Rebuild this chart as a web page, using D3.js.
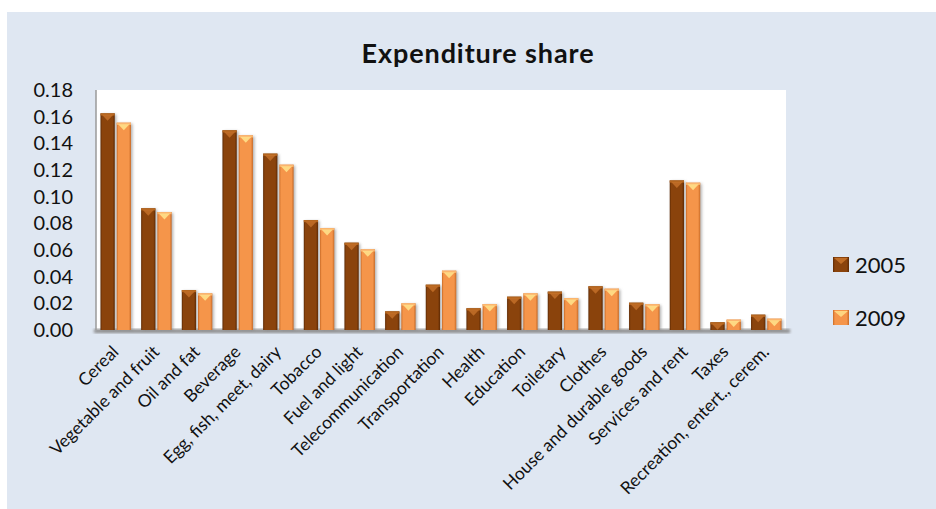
<!DOCTYPE html>
<html>
<head>
<meta charset="utf-8">
<script src="https://cdn.jsdelivr.net/npm/d3@7"></script>
<style>
  html, body { margin: 0; padding: 0; background: #ffffff; }
  svg { display: block; font-family: Lato, "Open Sans", "DejaVu Sans", sans-serif; }
</style>
</head>
<body>
<svg id="chart" width="936" height="509"></svg>
<script>
// Expenditure share by item, two survey years
const categories = [
  "Cereal", "Vegetable and fruit", "Oil and fat", "Beverage",
  "Egg, fish, meet, dairy", "Tobacco", "Fuel and light", "Telecommunication",
  "Transportation", "Health", "Education", "Toiletary", "Clothes",
  "House and durable goods", "Services and rent", "Taxes",
  "Recreation, entert., cerem."
];
const years = ["2005", "2009"];
const share2005 = [0.1625, 0.0913, 0.0300, 0.1498, 0.1323, 0.0825, 0.0655, 0.0140,
                   0.0340, 0.0163, 0.0250, 0.0288, 0.0328, 0.0205, 0.1122, 0.0058, 0.0115];
const share2009 = [0.1555, 0.0885, 0.0275, 0.1460, 0.1240, 0.0765, 0.0605, 0.0200,
                   0.0445, 0.0195, 0.0275, 0.0240, 0.0310, 0.0193, 0.1105, 0.0078, 0.0085];
const yTicks = [0, 0.02, 0.04, 0.06, 0.08, 0.10, 0.12, 0.14, 0.16, 0.18];

const series = [
  { name: years[0], values: share2005, base: "#8a430c", dark: "#5e2a04", light: "#b5661f", cap: "#c9742c" },
  { name: years[1], values: share2009, base: "#f5954a", dark: "#c86a26", light: "#fbb56e", cap: "#ffe08a" }
];

const svg = d3.select("#chart");
const W = 936, H = 509;
const plot = { left: 96, top: 90, right: 786, bottom: 330 };

// Outer chart background
svg.append("rect").attr("x", 7).attr("y", 12).attr("width", W - 7).attr("height", H - 12)
  .attr("fill", "#dfe7f2");

// Plot area
svg.append("rect").attr("x", plot.left).attr("y", plot.top)
  .attr("width", plot.right - plot.left).attr("height", plot.bottom - plot.top)
  .attr("fill", "#ffffff");

const x0 = d3.scaleBand().domain(categories).range([plot.left, plot.right]).paddingInner(0.25).paddingOuter(0.11);
const x1 = d3.scaleBand().domain(years).range([0, x0.bandwidth()]).paddingInner(0.12);
const y = d3.scaleLinear().domain([0, 0.18]).range([plot.bottom, plot.top]);

// Gradients for the bevelled bar look
const defs = svg.append("defs");
series.forEach((s, i) => {
  const g = defs.append("linearGradient").attr("id", "grad" + i)
    .attr("x1", "0").attr("x2", "1").attr("y1", "0").attr("y2", "0");
  g.append("stop").attr("offset", "0%").attr("stop-color", s.dark);
  g.append("stop").attr("offset", "12%").attr("stop-color", s.base);
  g.append("stop").attr("offset", "85%").attr("stop-color", s.base);
  g.append("stop").attr("offset", "100%").attr("stop-color", s.dark);
});
const blur = defs.append("filter").attr("id", "shadow").attr("x", "-30%").attr("y", "-10%")
  .attr("width", "160%").attr("height", "130%");
blur.append("feGaussianBlur").attr("stdDeviation", 1.4);

// Axis shadow along the baseline
svg.append("rect").attr("x", plot.left - 2).attr("y", plot.bottom - 1)
  .attr("width", plot.right - plot.left + 6).attr("height", 4)
  .attr("fill", "#8c8c8c").attr("filter", "url(#shadow)");

// Left axis line
svg.append("line").attr("x1", plot.left).attr("x2", plot.left)
  .attr("y1", plot.top).attr("y2", plot.bottom)
  .attr("stroke", "#9a9a9a").attr("stroke-width", 1.5);

// Bars
const groups = svg.append("g").selectAll("g")
  .data(categories)
  .join("g")
  .attr("transform", d => `translate(${x0(d)},0)`);

series.forEach((s, i) => {
  const bx = x1(s.name), bw = x1.bandwidth();
  // soft shadow
  groups.append("rect")
    .attr("x", bx + 1.5).attr("y", (d, k) => y(s.values[k]) + 1)
    .attr("width", bw).attr("height", (d, k) => plot.bottom - y(s.values[k]) - 1)
    .attr("fill", "#7a7a7a").attr("opacity", 0.6).attr("filter", "url(#shadow)");
  // body
  groups.append("rect")
    .attr("x", bx).attr("y", (d, k) => y(s.values[k]))
    .attr("width", bw).attr("height", (d, k) => plot.bottom - y(s.values[k]))
    .attr("fill", `url(#grad${i})`);
  // top rim
  groups.append("rect")
    .attr("x", bx).attr("y", (d, k) => y(s.values[k]))
    .attr("width", bw).attr("height", 2.2)
    .attr("fill", s.light);
  // bevel cap
  groups.append("path")
    .attr("d", (d, k) => {
      const t = y(s.values[k]) + 1.5;
      return `M${bx + 1.5},${t} L${bx + bw - 1.5},${t} L${bx + bw / 2},${t + 6} Z`;
    })
    .attr("fill", s.cap).attr("opacity", i === 0 ? 0.75 : 0.9);
});

// Y tick labels
svg.append("g").selectAll("text")
  .data(yTicks)
  .join("text")
  .attr("x", 73).attr("y", d => y(d) + 7)
  .attr("text-anchor", "end")
  .attr("font-size", 20).attr("fill", "#111")
  .text(d => d3.format(".2f")(d));

// Category labels, rotated
svg.append("g").selectAll("text")
  .data(categories)
  .join("text")
  .attr("transform", d => `translate(${x0(d) + x0.bandwidth() / 2 + 4},${plot.bottom + 23}) rotate(-45)`)
  .attr("text-anchor", "end")
  .attr("font-size", 17.5).attr("fill", "#111")
  .text(d => d);

// Title
svg.append("text").attr("x", 478).attr("y", 63)
  .attr("text-anchor", "middle").attr("font-size", 27).attr("font-weight", "bold")
  .attr("letter-spacing", 0.9)
  .attr("fill", "#111").text("Expenditure share");

// Legend
const legend = svg.append("g").selectAll("g")
  .data(series)
  .join("g")
  .attr("transform", (d, i) => `translate(833,${257 + i * 53})`);
legend.append("rect").attr("width", 16).attr("height", 15)
  .attr("fill", (d, i) => `url(#grad${i})`);
legend.append("path").attr("d", "M1,1 L15,1 L8,7 Z")
  .attr("fill", d => d.cap).attr("opacity", 0.85);
legend.append("text").attr("x", 22).attr("y", 16)
  .attr("font-size", 22).attr("fill", "#111").text(d => d.name);
</script>
</body>
</html>
